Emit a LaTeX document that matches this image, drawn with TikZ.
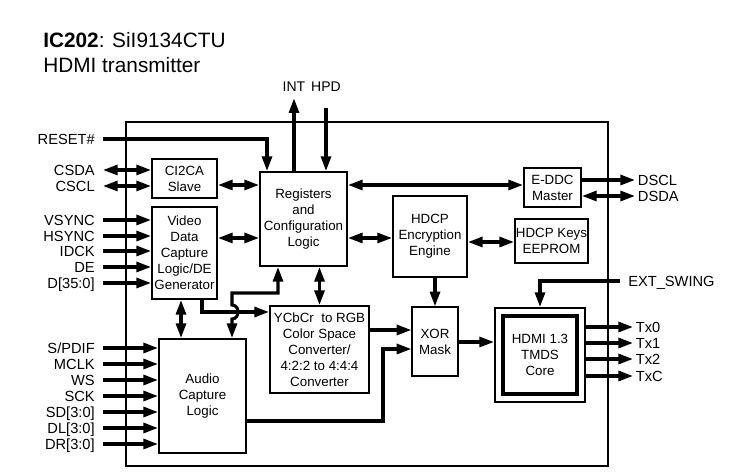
\documentclass[tikz,border=0pt]{standalone}
\usepackage{fontspec}
\setmainfont{Liberation Sans}
\usetikzlibrary{arrows.meta}
\begin{document}
\begin{tikzpicture}[x=0.75pt,y=-0.75pt,
  blk/.style={draw, line width=1.5pt, inner sep=0pt, align=center, font=\fontsize{10}{12}\selectfont},
  lbl/.style={font=\fontsize{11}{13}\selectfont, text height=8pt, text depth=0pt, inner ysep=0pt, inner xsep=6pt, anchor=east},
  rlbl/.style={font=\fontsize{11}{13}\selectfont, text height=8pt, text depth=0pt, inner ysep=0pt, inner xsep=2pt, anchor=west},
  tlbl/.style={font=\fontsize{10.5}{12}\selectfont, text height=7.5pt, text depth=0pt, inner sep=1pt, anchor=south},
  arr/.style={line width=2.3pt, -{Triangle[length=11pt,width=7.5pt]}},
  dbl/.style={line width=2.3pt, {Triangle[length=11pt,width=7.5pt]}-{Triangle[length=11pt,width=7.5pt]}},
  chipline/.style={line width=1.5pt}]
\useasboundingbox (0,0) rectangle (732,473);

% title
\node[anchor=base west, inner sep=0pt, font=\fontsize{15.6}{18}\selectfont] (title1) at (43,48) {\textbf{IC202}: SiI9134CTU};
\node[anchor=base west, inner sep=0pt, font=\fontsize{15.6}{18}\selectfont] (title2) at (43,73) {HDMI transmitter};

% chip outline
\draw[chipline] (126,122) rectangle (608,466);

% blocks
\node[blk, minimum width=48.75pt, minimum height=29.25pt] (slave) at (184.5,178.5) {CI2CA\\Slave};
\node[blk, minimum width=48.75pt, minimum height=69pt] (video) at (184.5,253) {Video\\Data\\Capture\\Logic/DE\\Generator};
\node[blk, minimum width=65.25pt, minimum height=70.5pt] (reg) at (303.5,219) {Registers\\and\\Configuration\\Logic};
\node[blk, minimum width=42.75pt, minimum height=29.25pt] (eddc) at (552.5,187.5) {E-DDC\\Master};
\node[blk, minimum width=55.5pt, minimum height=60.75pt] (hdcp) at (430,236.5) {HDCP\\Encryption\\Engine};
\node[blk, minimum width=54.75pt, minimum height=33pt] (keys) at (551.5,241) {HDCP Keys\\EEPROM};
\node[blk, line width=1pt, minimum width=34.5pt, minimum height=51.75pt] (xor) at (435,341.5) {XOR\\Mask};
\node[blk, minimum width=74.25pt, minimum height=65.25pt] (ycbcr) at (319.5,349.5) {YCbCr~ to RGB\\Color Space\\Converter/\\4:2:2 to 4:4:4\\Converter};
\node[blk, minimum width=65.25pt, minimum height=85.5pt] (audio) at (202.5,396) {Audio\\Capture\\Logic};
\node[blk, minimum width=67.5pt, minimum height=70.5pt] (hdmiout) at (540,355) {};
\node[blk, line width=3pt, minimum width=55.5pt, minimum height=58.5pt] (hdmi) at (540,355) {HDMI 1.3\\TMDS\\Core};

% left labels
\node[lbl] (reset) at (103,139) {RESET\#};
\node[lbl] (csda) at (103,170) {CSDA};
\node[lbl] (cscl) at (103,186) {CSCL};
\node[lbl] (vsync) at (103,220) {VSYNC};
\node[lbl] (hsync) at (103,236) {HSYNC};
\node[lbl] (idck) at (103,251) {IDCK};
\node[lbl] (de) at (103,267) {DE};
\node[lbl] (d) at (103,283) {D[35:0]};
\node[lbl] (spdif) at (103,348) {S/PDIF};
\node[lbl] (mclk) at (103,364) {MCLK};
\node[lbl] (ws) at (103,380) {WS};
\node[lbl] (sck) at (103,396) {SCK};
\node[lbl] (sd) at (103,412) {SD[3:0]};
\node[lbl] (dl) at (103,428) {DL[3:0]};
\node[lbl] (dr) at (103,444) {DR[3:0]};

% top labels
\node[tlbl] (int) at (294,93) {INT};
\node[tlbl] (hpd) at (326,93) {HPD};

% right labels
\node[rlbl] (dscl) at (635,180) {DSCL};
\node[rlbl] (dsda) at (635,196) {DSDA};
\node[rlbl, inner xsep=6pt] (ext) at (620,281) {EXT\_SWING};
\node[rlbl] (tx0) at (633,327) {Tx0};
\node[rlbl] (tx1) at (633,343) {Tx1};
\node[rlbl] (tx2) at (633,359) {Tx2};
\node[rlbl] (txc) at (633,376) {TxC};

% left connectors
\draw[arr] (reset.east) -| ([xshift=6pt]reg.north west);
\draw[dbl] (csda.east) -- (csda.east -| slave.west);
\draw[dbl] (cscl.east) -- (cscl.east -| slave.west);
\foreach \n in {vsync,hsync,idck,de,d}
  \draw[arr] (\n.east) -- (\n.east -| video.west);
\foreach \n in {spdif,mclk,ws,sck,sd,dl,dr}
  \draw[arr] (\n.east) -- (\n.east -| audio.west);

% top connectors
\draw[arr] (reg.north -| int.south) -- ([yshift=-4pt]int.south);
\draw[arr] ([yshift=-11pt]hpd.south) -- (reg.north -| hpd.south);

% internal connectors
\draw[dbl] (slave.east |- 0,185) -- (reg.west |- 0,185);
\draw[dbl] (video.east |- 0,238) -- (reg.west |- 0,238);
\draw[dbl] (reg.east |- 0,185) -- (eddc.west |- 0,185);
\draw[dbl] (reg.east |- 0,238) -- (hdcp.west |- 0,238);
\draw[dbl] (hdcp.east |- 0,242) -- (keys.west |- 0,242);
\draw[arr] (hdcp.south -| xor.north) -- (xor.north);
\draw[arr] (ycbcr.east |- 0,330) -- (xor.west |- 0,330);
\draw[arr] (xor.east |- 0,342) -- (hdmiout.west |- 0,342);
\draw[arr] (audio.east |- 0,421) -- (383,421) -- (383,349) -- (xor.west |- 0,349);
\draw[dbl] (reg.south -| ycbcr.north) -- (ycbcr.north);
\draw[dbl] (video.south -| 181,0) -- (audio.north -| 181,0);
\draw[arr] (video.south -| 202,0) -- (202,312) -- (ycbcr.west |- 0,312);
\draw[dbl] (reg.south -| 278,0) -- (278,293) -- (232,293) -- (232,305)
  .. controls (240,305) and (240,319) .. (232,319) -- (audio.north -| 232,0);

% right connectors
\draw[arr] (eddc.east |- dscl.west) -- (dscl.west);
\draw[dbl] (eddc.east |- dsda.west) -- (dsda.west);
\draw[arr] (ext.west) -| (hdmiout.north);
\foreach \n in {tx0,tx1,tx2,txc}
  \draw[arr] (hdmiout.east |- \n.west) -- (\n.west);
\end{tikzpicture}
\end{document}
